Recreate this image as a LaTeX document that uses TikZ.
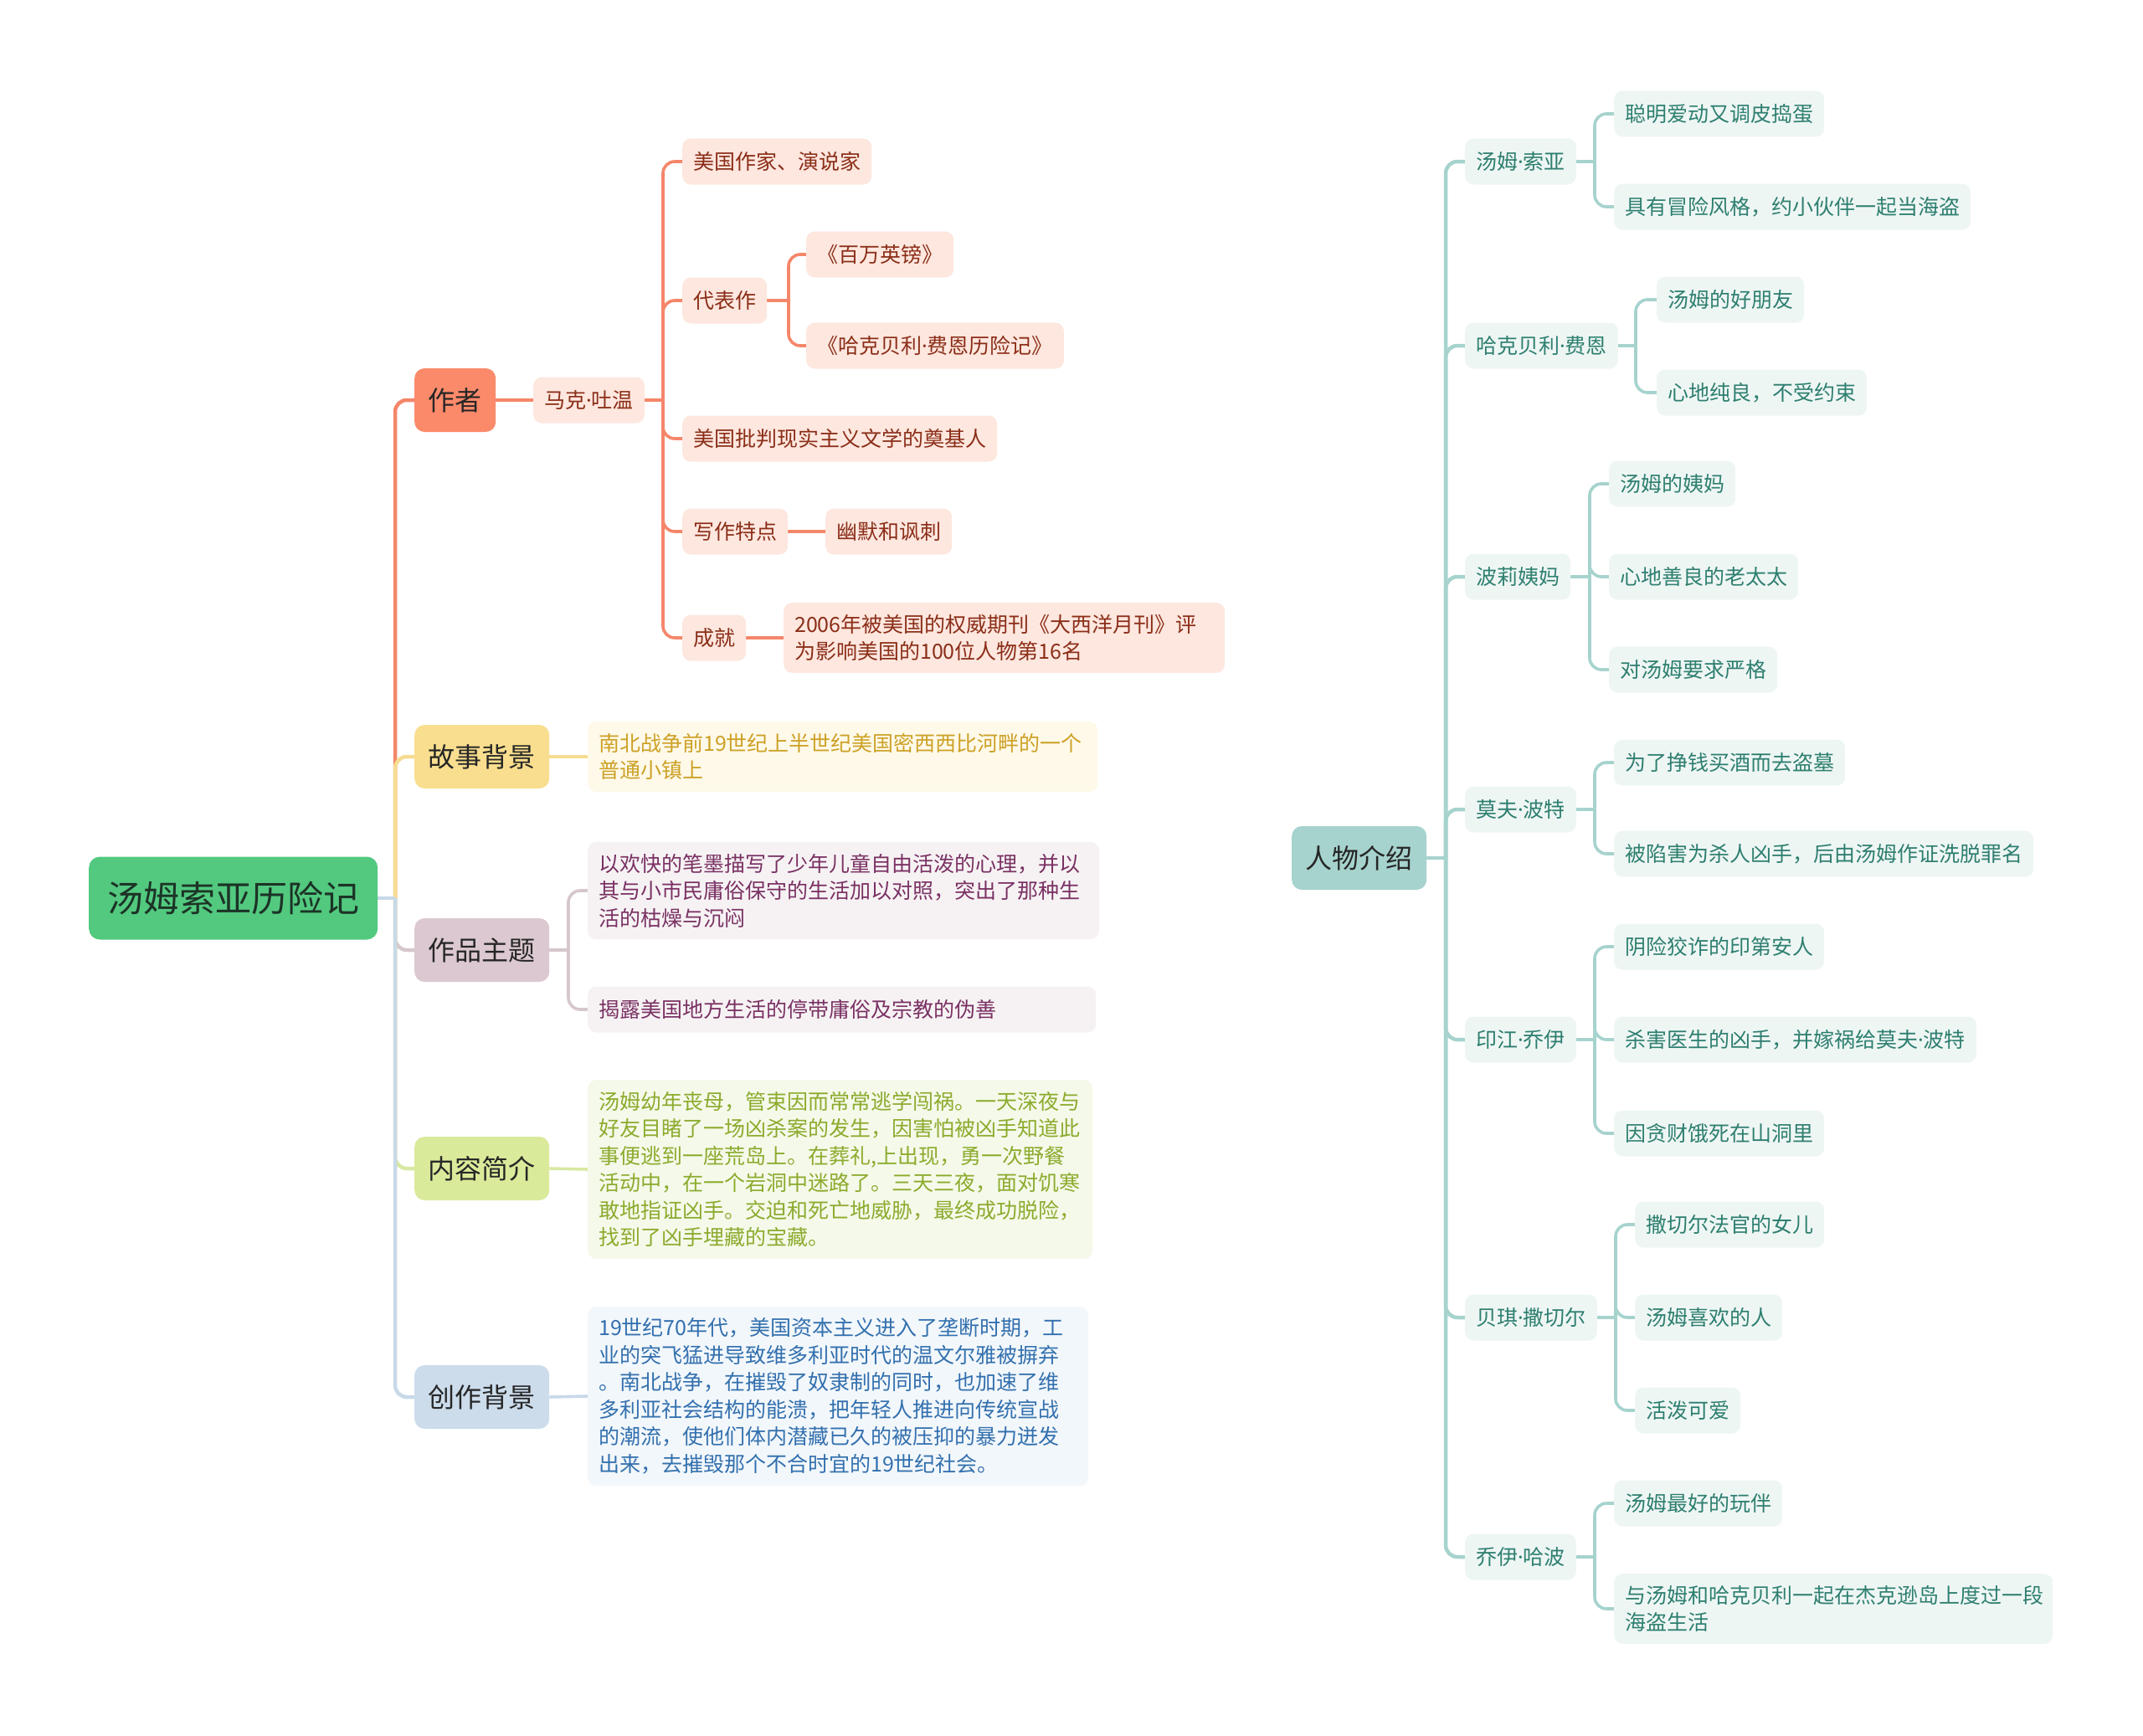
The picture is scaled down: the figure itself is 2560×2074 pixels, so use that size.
\documentclass[tikz,border=0pt]{standalone}
\usepackage{fontspec}
\setmainfont{Noto Sans CJK SC}
\newfontfamily\dotfont{Noto Sans}
\newcommand\mydot{{\dotfont ·}}
\usetikzlibrary{calc}
\pgfdeclarelayer{bg}
\pgfsetlayers{bg,main}
\definecolor{rootfill}{HTML}{52C97F}
\definecolor{roottext}{HTML}{1C3326}
\definecolor{maintext}{HTML}{262626}
\definecolor{auFill}{HTML}{FB8A6B}
\definecolor{auLine}{HTML}{F4866A}
\definecolor{auSub}{HTML}{FDE7DF}
\definecolor{auText}{HTML}{8B2E18}
\definecolor{bgFill}{HTML}{F8DE8E}
\definecolor{bgLine}{HTML}{F6DC90}
\definecolor{bgSub}{HTML}{FEF9E8}
\definecolor{bgText}{HTML}{CDA126}
\definecolor{thFill}{HTML}{DCC8D0}
\definecolor{thLine}{HTML}{D6C6CD}
\definecolor{thSub}{HTML}{F6F2F4}
\definecolor{thText}{HTML}{7A3163}
\definecolor{ctFill}{HTML}{DAEA9B}
\definecolor{ctLine}{HTML}{D8E8A2}
\definecolor{ctSub}{HTML}{F5F9E9}
\definecolor{ctText}{HTML}{8CAB2E}
\definecolor{crFill}{HTML}{CCDCEB}
\definecolor{crLine}{HTML}{C8D9E8}
\definecolor{crSub}{HTML}{F2F7FB}
\definecolor{crText}{HTML}{3370AE}
\definecolor{rwFill}{HTML}{A6D3CD}
\definecolor{rwLine}{HTML}{A6D3CD}
\definecolor{rwSub}{HTML}{EEF6F4}
\definecolor{rwText}{HTML}{2E7F70}
\begin{document}
\begin{tikzpicture}[x=1pt,y=-1pt,
  rootbox/.style={rounded corners=13pt, fill=rootfill, text=roottext, inner xsep=22pt, inner ysep=0pt, minimum height=99pt, font=\fontsize{43}{50}\selectfont, anchor=west},
  mainbox/.style={rounded corners=12pt, text=maintext, inner xsep=16.5pt, inner ysep=0pt, minimum height=76pt, font=\fontsize{32}{38}\selectfont, anchor=west},
  smallbox/.style={rounded corners=10pt, inner xsep=13pt, inner ysep=0pt, minimum height=55pt, font=\fontsize{25}{32.5}\selectfont, anchor=west},
  multibox/.style={rounded corners=10pt, inner xsep=13pt, inner ysep=14pt, align=left, font=\fontsize{25}{32.5}\selectfont, anchor=west},
  au/.style={fill=auSub, text=auText},
  bgs/.style={fill=bgSub, text=bgText},
  ths/.style={fill=thSub, text=thText},
  cts/.style={fill=ctSub, text=ctText},
  crs/.style={fill=crSub, text=crText},
  rws/.style={fill=rwSub, text=rwText},
  trunkline/.style={line width=4.5pt},
  subline/.style={line width=3.6pt, rounded corners=14pt},
  corner/.style={rounded corners=14pt}
]
\useasboundingbox (0,0) rectangle (2560,2074);

% ---------- left part ----------
\node[rootbox] (root) at (106,1073) {汤姆索亚历险记};
\coordinate (jR) at (472,1073);

\node[mainbox, fill=auFill] (zz) at (495,478) {作者};
\node[smallbox, au] (mk) at (637,478) {马克\mydot 吐温};
\coordinate (jA) at (792,478);
\node[smallbox, au] (a1) at (815,193) {美国作家、演说家};
\node[smallbox, au] (a2) at (815,359) {代表作};
\coordinate (jB) at (942,359);
\node[smallbox, au] (a21) at (963,304) {《百万英镑》};
\node[smallbox, au] (a22) at (963,413) {《哈克贝利\mydot 费恩历险记》};
\node[smallbox, au] (a3) at (815,524) {美国批判现实主义文学的奠基人};
\node[smallbox, au] (a4) at (815,635) {写作特点};
\node[smallbox, au] (a41) at (986,635) {幽默和讽刺};
\node[smallbox, au] (a5) at (815,762) {成就};
\node[multibox, au, text width=501pt] (a51) at (936,762) {2006年被美国的权威期刊《大西洋月刊》评\\为影响美国的100位人物第16名};

\node[mainbox, fill=bgFill] (gs) at (495,904) {故事背景};
\node[multibox, bgs, text width=583pt] (gs1) at (702,904) {南北战争前19世纪上半世纪美国密西西比河畔的一个\\普通小镇上};

\node[mainbox, fill=thFill] (zt) at (495,1135) {作品主题};
\coordinate (jC) at (679,1135);
\node[multibox, ths, text width=585pt] (zt1) at (702,1064) {以欢快的笔墨描写了少年儿童自由活泼的心理，并以\\其与小市民庸俗保守的生活加以对照，突出了那种生\\活的枯燥与沉闷};
\node[smallbox, ths, align=left, text width=581pt] (zt2) at (702,1206) {揭露美国地方生活的停带庸俗及宗教的伪善};

\node[mainbox, fill=ctFill] (nr) at (495,1396) {内容简介};
\node[multibox, cts, text width=577pt] (nr1) at (702,1397) {汤姆幼年丧母，管束因而常常逃学闯祸。一天深夜与\\好友目睹了一场凶杀案的发生，因害怕被凶手知道此\\事便逃到一座荒岛上。在葬礼,上出现，勇一次野餐\\活动中，在一个岩洞中迷路了。三天三夜，面对饥寒\\敢地指证凶手。交迫和死亡地威胁，最终成功脱险，\\找到了凶手埋藏的宝藏。};

\node[mainbox, fill=crFill] (cz) at (495,1669) {创作背景};
\node[multibox, crs, text width=572pt] (cz1) at (702,1668) {19世纪70年代，美国资本主义进入了垄断时期，工\\业的突飞猛进导致维多利亚时代的温文尔雅被摒弃\\。南北战争，在摧毁了奴隶制的同时，也加速了维\\多利亚社会结构的能溃，把年轻人推进向传统宣战\\的潮流，使他们体内潜藏已久的被压抑的暴力迸发\\出来，去摧毁那个不合时宜的19世纪社会。};

% ---------- right part ----------
\node[mainbox, fill=rwFill] (rw) at (1543,1025) {人物介绍};
\coordinate (jP) at (1727,1025);

\node[smallbox, rws] (p1) at (1750,193) {汤姆\mydot 索亚};
\coordinate (j1) at (1905,193);
\node[smallbox, rws] (p11) at (1928,136) {聪明爱动又调皮捣蛋};
\node[smallbox, rws] (p12) at (1928,247) {具有冒险风格，约小伙伴一起当海盗};

\node[smallbox, rws] (p2) at (1750,413) {哈克贝利\mydot 费恩};
\coordinate (j2) at (1954,413);
\node[smallbox, rws] (p21) at (1979,358) {汤姆的好朋友};
\node[smallbox, rws] (p22) at (1979,469) {心地纯良，不受约束};

\node[smallbox, rws] (p3) at (1750,689) {波莉姨妈};
\coordinate (j3) at (1899,689);
\node[smallbox, rws] (p31) at (1922,578) {汤姆的姨妈};
\node[smallbox, rws] (p32) at (1922,689) {心地善良的老太太};
\node[smallbox, rws] (p33) at (1922,800) {对汤姆要求严格};

\node[smallbox, rws] (p4) at (1750,967) {莫夫\mydot 波特};
\coordinate (j4) at (1905,967);
\node[smallbox, rws] (p41) at (1928,911) {为了挣钱买酒而去盗墓};
\node[smallbox, rws] (p42) at (1928,1020) {被陷害为杀人凶手，后由汤姆作证洗脱罪名};

\node[smallbox, rws] (p5) at (1750,1242) {印江\mydot 乔伊};
\coordinate (j5) at (1905,1242);
\node[smallbox, rws] (p51) at (1928,1131) {阴险狡诈的印第安人};
\node[smallbox, rws] (p52) at (1928,1242) {杀害医生的凶手，并嫁祸给莫夫\mydot 波特};
\node[smallbox, rws] (p53) at (1928,1354) {因贪财饿死在山洞里};

\node[smallbox, rws] (p6) at (1750,1574) {贝琪\mydot 撒切尔};
\coordinate (j6) at (1930,1574);
\node[smallbox, rws] (p61) at (1953,1463) {撒切尔法官的女儿};
\node[smallbox, rws] (p62) at (1953,1574) {汤姆喜欢的人};
\node[smallbox, rws] (p63) at (1953,1685) {活泼可爱};

\node[smallbox, rws] (p7) at (1750,1860) {乔伊\mydot 哈波};
\coordinate (j7) at (1905,1860);
\node[smallbox, rws] (p71) at (1928,1796) {汤姆最好的玩伴};
\node[multibox, rws, text width=498pt] (p72) at (1928,1922) {与汤姆和哈克贝利一起在杰克逊岛上度过一段\\海盗生活};

% ---------- connectors ----------
\begin{pgfonlayer}{bg}
  \draw[trunkline, auLine] (root.east) -- (jR);
  \draw[trunkline, auLine, corner] (jR) |- (zz.west);
  \draw[trunkline, bgLine, corner] (jR) |- (gs.west);
  \draw[trunkline, thLine, corner] (jR) |- (zt.west);
  \draw[trunkline, ctLine, corner] (jR) |- (nr.west);
  \draw[trunkline, crLine, corner] (jR) |- (cz.west);
  \draw[trunkline, crLine] (root.east) -- (jR);
  \draw[subline, auLine] (zz.east) -- (mk.west);
  \draw[subline, auLine] (mk.east) -- (jA);
  \draw[subline, auLine] (jA) |- (a1.west);
  \draw[subline, auLine] (jA) |- (a2.west);
  \draw[subline, auLine] (jA) |- (a3.west);
  \draw[subline, auLine] (jA) |- (a4.west);
  \draw[subline, auLine] (jA) |- (a5.west);
  \draw[subline, auLine] (a2.east) -- (jB);
  \draw[subline, auLine] (jB) |- (a21.west);
  \draw[subline, auLine] (jB) |- (a22.west);
  \draw[subline, auLine] (a4.east) -- (a41.west);
  \draw[subline, auLine] (a5.east) -- (a51.west);
  \draw[subline, bgLine] (gs.east) -- (gs1.west);
  \draw[subline, thLine] (zt.east) -- (jC);
  \draw[subline, thLine] (jC) |- (zt1.west);
  \draw[subline, thLine] (jC) |- (zt2.west);
  \draw[subline, ctLine] (nr.east) -- (nr1.west);
  \draw[subline, crLine] (cz.east) -- (cz1.west);
  \draw[trunkline, rwLine] (rw.east) -- (jP);
  \foreach \p in {p1,p2,p3,p4,p5,p6,p7} {
    \draw[trunkline, rwLine, corner] (jP) |- (\p.west);
  }
  \draw[subline, rwLine] (p1.east) -- (j1);
  \draw[subline, rwLine] (j1) |- (p11.west);
  \draw[subline, rwLine] (j1) |- (p12.west);
  \draw[subline, rwLine] (p2.east) -- (j2);
  \draw[subline, rwLine] (j2) |- (p21.west);
  \draw[subline, rwLine] (j2) |- (p22.west);
  \draw[subline, rwLine] (p3.east) -- (j3);
  \draw[subline, rwLine] (j3) |- (p31.west);
  \draw[subline, rwLine] (j3) |- (p32.west);
  \draw[subline, rwLine] (j3) |- (p33.west);
  \draw[subline, rwLine] (p4.east) -- (j4);
  \draw[subline, rwLine] (j4) |- (p41.west);
  \draw[subline, rwLine] (j4) |- (p42.west);
  \draw[subline, rwLine] (p5.east) -- (j5);
  \draw[subline, rwLine] (j5) |- (p51.west);
  \draw[subline, rwLine] (j5) |- (p52.west);
  \draw[subline, rwLine] (j5) |- (p53.west);
  \draw[subline, rwLine] (p6.east) -- (j6);
  \draw[subline, rwLine] (j6) |- (p61.west);
  \draw[subline, rwLine] (j6) |- (p62.west);
  \draw[subline, rwLine] (j6) |- (p63.west);
  \draw[subline, rwLine] (p7.east) -- (j7);
  \draw[subline, rwLine] (j7) |- (p71.west);
  \draw[subline, rwLine] (j7) |- (p72.west);
\end{pgfonlayer}
\end{tikzpicture}
\end{document}
